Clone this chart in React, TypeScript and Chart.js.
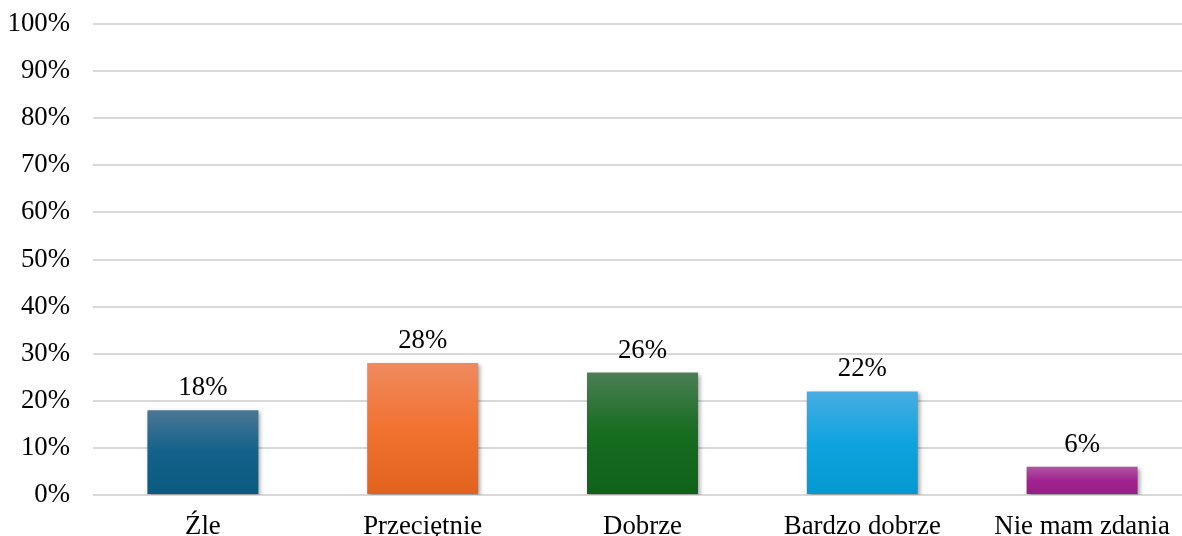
import React, { useEffect, useRef } from "react";
import { Chart, registerables } from "chart.js";

Chart.register(...registerables);

const categories = ["Źle", "Przeciętnie", "Dobrze", "Bardzo dobrze", "Nie mam zdania"];
const values = [18, 28, 26, 22, 6];
const yTicks = [0, 10, 20, 30, 40, 50, 60, 70, 80, 90, 100];
const topColors = ["#4b7795", "#ef8a5e", "#4b7f54", "#48ade2", "#b055a3"];
const midColors = ["#11618a", "#f27230", "#166c1f", "#0ea3df", "#a1228f"];
const bottomColors = ["#0b5a80", "#e0621d", "#10621a", "#0598d0", "#961f88"];

const FONT = "'Liberation Serif', 'Times New Roman', serif";
const FS = 26.8;

export default function App() {
  const ref = useRef<HTMLCanvasElement | null>(null);

  useEffect(() => {
    if (!ref.current) return;
    const shadowPlugin = {
      id: "barShadow",
      beforeDatasetDraw(chart: any) {
        const ctx = chart.ctx;
        ctx.save();
        ctx.shadowColor = "rgba(0,0,0,0.35)";
        ctx.shadowBlur = 4;
        ctx.shadowOffsetX = 2;
        ctx.shadowOffsetY = 2;
      },
      afterDatasetDraw(chart: any) {
        chart.ctx.restore();
      },
    };
    const labelPlugin = {
      id: "valueLabels",
      afterDatasetsDraw(chart: any) {
        const ctx = chart.ctx;
        const meta = chart.getDatasetMeta(0);
        ctx.save();
        ctx.font = `${FS}px ${FONT}`;
        ctx.fillStyle = "#000";
        ctx.textAlign = "center";
        ctx.textBaseline = "alphabetic";
        meta.data.forEach((el: any, i: number) => {
          ctx.fillText(values[i] + "%", el.x, el.y - 15);
        });
        ctx.restore();
      },
    };
    const chart = new Chart(ref.current, {
      type: "bar",
      data: {
        labels: categories,
        datasets: [
          {
            data: values,
            barPercentage: 0.505,
            categoryPercentage: 1,
            borderWidth: 0,
            backgroundColor: (c: any) => {
              const chartObj = c.chart;
              const y = chartObj.scales?.y;
              const i = c.dataIndex ?? 0;
              if (!y || c.raw === undefined) return midColors[i];
              const top = y.getPixelForValue(c.raw);
              const base = y.getPixelForValue(0);
              if (!isFinite(top) || !isFinite(base) || top === base) return midColors[i];
              const g = chartObj.ctx.createLinearGradient(0, top, 0, base);
              g.addColorStop(0, topColors[i]);
              g.addColorStop(0.5, midColors[i]);
              g.addColorStop(1, bottomColors[i]);
              return g;
            },
          },
        ],
      },
      options: {
        animation: false,
        responsive: true,
        maintainAspectRatio: false,
        layout: { padding: { left: 0, right: 8, top: 24, bottom: 0 } },
        plugins: {
          legend: { display: false },
          tooltip: { enabled: false },
        },
        scales: {
          x: {
            grid: { display: false },
            border: { display: false },
            ticks: {
              color: "#000",
              font: { family: FONT, size: FS },
              padding: 8,
              maxRotation: 0,
              autoSkip: false,
            },
            afterFit(scale: any) {
              scale.height = 41;
              scale.paddingLeft = 0;
              scale.paddingRight = 0;
            },
          },
          y: {
            min: 0,
            max: 100,
            afterBuildTicks(scale: any) {
              scale.ticks = yTicks.map((v) => ({ value: v }));
            },
            grid: { color: "#d9d9d9", lineWidth: 2, drawTicks: false },
            border: { display: false },
            ticks: {
              color: "#000",
              font: { family: FONT, size: FS },
              padding: 23,
              callback: (v: any) => v + "%",
            },
            afterFit(scale: any) {
              scale.width = 93;
              scale.paddingTop = 0;
              scale.paddingBottom = 0;
            },
          },
        },
      },
      plugins: [shadowPlugin, labelPlugin],
    });
    return () => chart.destroy();
  }, []);

  return (
    <div style={{ position: "fixed", left: 0, top: 0, width: 1200, height: 536, background: "#fff" }}>
      <canvas ref={ref} />
    </div>
  );
}
